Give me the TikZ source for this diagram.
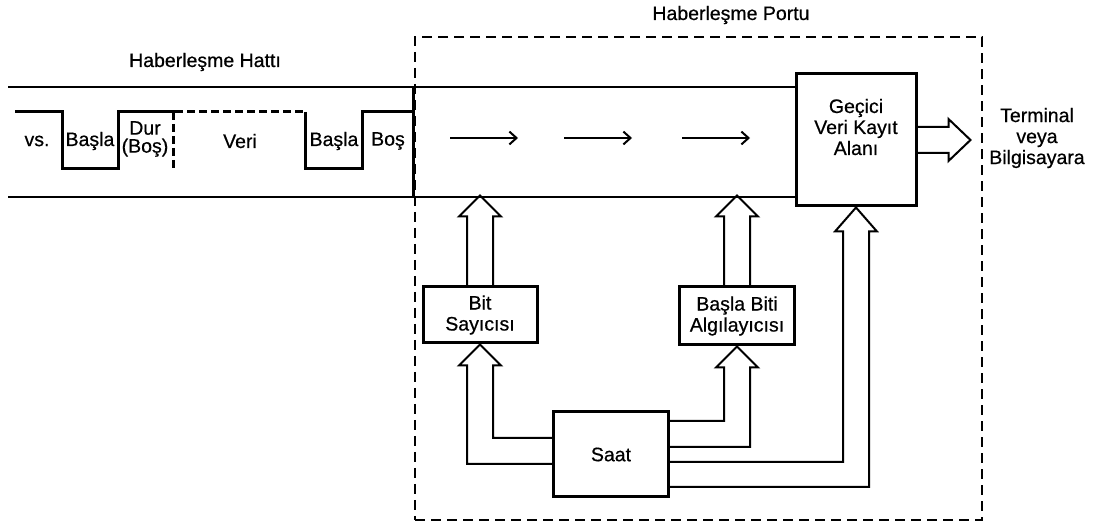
\documentclass[tikz,border=0pt]{standalone}
\usepackage{fontspec}
\setmainfont{Liberation Sans}[FakeBold=0.6]
\usetikzlibrary{arrows.meta, positioning, calc}

\begin{document}
\begin{tikzpicture}[
        x=1pt, y=-1pt,
        font=\fontsize{19.5}{21}\selectfont,
        box/.style={rectangle, draw, line width=3pt, align=center, inner sep=0pt},
        lbl/.style={align=center, inner sep=0pt},
        portbox/.style={rectangle, draw, dash pattern=on 10pt off 6pt, line width=2.5pt, inner sep=0pt},
        chan/.style={line width=2pt},
        wave/.style={line width=3pt},
        hollow/.style={line width=2pt, line join=miter},
        arrow/.style={-{Straight Barb[length=2.5mm, width=4.5mm]}, line width=2pt}
    ]
        \useasboundingbox (0,0) rectangle (1096,526);
        % port and blocks
        \node[portbox, minimum width=567pt, minimum height=483pt] (port) at (698.5,278.5) {};
        \node[lbl] (portlbl) at (731,15) {Haberleşme Portu};
        \node[lbl] (hatlbl) at (205,62) {Haberleşme Hattı};
        \node[box, minimum width=120pt, minimum height=132pt] (buf) at (856,140) {};
        \node[lbl] (buflbl) at (856,127) {Geçici\\Veri Kayıt\\Alanı};
        \node[box, minimum width=114pt, minimum height=56pt] (bit) at (480,315) {Bit\\Sayıcısı};
        \node[box, minimum width=115pt, minimum height=58pt] (start) at (737,316) {Başla Biti\\Algılayıcısı};
        \node[box, minimum width=115pt, minimum height=85pt] (clk) at (611,454.5) {Saat};
        \node[lbl] (term) at (1037,138) {Terminal\\veya\\Bilgisayara};
        % line
        \coordinate (lt) at (8,87);
        \coordinate (lb) at (8,197);
        \draw[chan] (lt) -- (lt -| buf.west);
        \draw[chan] (lb) -- (lb -| buf.west);
        \draw[wave] (lt -| port.west) -- (lb -| port.west);
        \foreach \xa in {450,564,682}
            \draw[arrow] (\xa,138) -- ++(68,0);
        % signal
        \draw[wave] (15,112) -- (62,112) -- (62,169) -- (118,169) -- (118,112) -- (175,112);
        \draw[wave, dash pattern=on 8pt off 4pt] (175,112) -- (305,112);
        \draw[wave, dash pattern=on 8pt off 4pt] (173,112) -- (173,169);
        \draw[wave] (305,112) -- (305,169) -- (362,169) -- (362,112) -- (415,112);
        \node[lbl] (vs) at (37,141) {vs.};
        \node[lbl] (b1) at (90,141) {Başla};
        \node[lbl, font=\fontsize{19.5}{18}\selectfont] (dur) at (145,139) {Dur\\(Boş)};
        \node[lbl] (veri) at (240,141) {Veri};
        \node[lbl] (b2) at (334,141) {Başla};
        \node[lbl] (bos) at (388,141) {Boş};
        % hollow arrows
        \draw[hollow] ([xshift=-13pt]bit.north) -- ++(0,-69) -- ++(-8,0) -- ++(21,-21)
            -- ++(21,21) -- ++(-8,0) -- ([xshift=13pt]bit.north);
        \draw[hollow] ([xshift=-13pt]start.north) -- ++(0,-69) -- ++(-8,0) -- ++(21,-21)
            -- ++(21,21) -- ++(-8,0) -- ([xshift=13pt]start.north);
        \draw[hollow] ($(buf.east)+(0,-13)$) -- ++(31,0) -- ++(0,-8) -- ++(22,21)
            -- ++(-22,21) -- ++(0,-8) -- ($(buf.east)+(0,13)$);
        \draw[hollow] ($(clk.west)+(0,9.5)$) -| ($(bit.south)+(-13,21)$) -- ++(-8,0)
            -- (bit.south) -- ++(21,21) -- ++(-8,0) |- ($(clk.west)+(0,-16.5)$);
        \draw[hollow] ($(clk.east)+(0,-33.5)$) -| ($(start.south)+(-13,21)$) -- ++(-8,0)
            -- (start.south) -- ++(21,21) -- ++(-8,0) |- ($(clk.east)+(0,-7.5)$);
        \draw[hollow] ($(clk.east)+(0,7.5)$) -| ($(buf.south)+(-13,24)$) -- ++(-8,0)
            -- (buf.south) -- ++(21,24) -- ++(-8,0) |- ($(clk.east)+(0,32.5)$);
    \end{tikzpicture}
\end{document}
